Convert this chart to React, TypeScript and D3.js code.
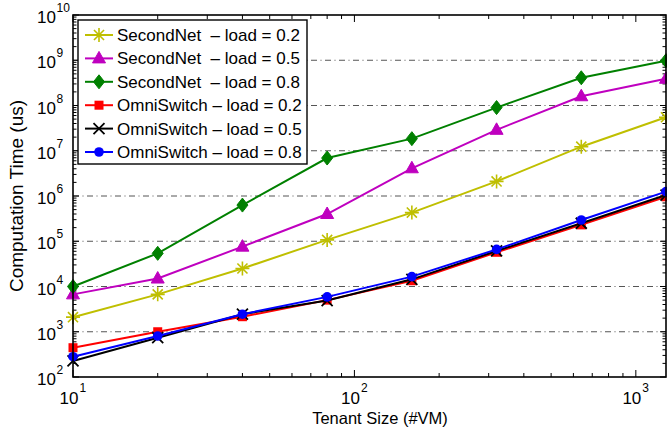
import React, { useEffect, useRef } from 'react';
import * as d3 from 'd3';

// tenant sizes (#VM) and computation time (us)
const tenantSizes = [10, 20, 40, 80, 160, 320, 640, 1280];
const secondNet02 = [2100, 6700, 25000, 107000, 430000, 2.1e6, 1.23e7, 5.5e7];
const secondNet05 = [6700, 15000, 76000, 4.0e5, 4.1e6, 2.9e7, 1.6e8, 3.9e8];
const secondNet08 = [1.0e4, 5.4e4, 6.3e5, 6.9e6, 1.85e7, 9.0e7, 4.1e8, 9.8e8];
const omni02 = [444, 1000, 2150, 5000, 1.34e4, 5.7e4, 2.3e5, 9.6e5];
const omni05 = [226, 740, 2440, 4900, 1.44e4, 6.1e4, 2.5e5, 1.05e6];
const omni08 = [281, 805, 2440, 5900, 1.65e4, 6.6e4, 2.95e5, 1.25e6];

const seriesLabels = [
  'SecondNet  \u2013 load = 0.2',
  'SecondNet  \u2013 load = 0.5',
  'SecondNet  \u2013 load = 0.8',
  'OmniSwitch \u2013 load = 0.2',
  'OmniSwitch \u2013 load = 0.5',
  'OmniSwitch \u2013 load = 0.8',
];
const seriesValues = [secondNet02, secondNet05, secondNet08, omni02, omni05, omni08];
const seriesColors = ['#bfbf00', '#bf00bf', '#008000', '#ff0000', '#000000', '#0000ff'];
const seriesMarkers = ['star', 'triangle', 'diamond', 'square', 'x', 'circle'];

const xTickExps = [1, 2, 3];
const yTickExps = [2, 3, 4, 5, 6, 7, 8, 9, 10];

const drawMarker = (g, type, x, y, color) => {
  if (type === 'star') {
    const r = 7;
    const d = r * 0.72;
    g.append('path')
      .attr('d', `M${x - r},${y}L${x + r},${y}M${x},${y - r}L${x},${y + r}M${x - d},${y - d}L${x + d},${y + d}M${x - d},${y + d}L${x + d},${y - d}`)
      .attr('stroke', color).attr('stroke-width', 1.6).attr('fill', 'none');
  } else if (type === 'triangle') {
    g.append('path')
      .attr('d', `M${x},${y - 7}L${x + 6.5},${y + 4.5}L${x - 6.5},${y + 4.5}Z`)
      .attr('fill', color).attr('stroke', color).attr('stroke-width', 1);
  } else if (type === 'diamond') {
    g.append('path')
      .attr('d', `M${x},${y - 7}L${x + 5.5},${y}L${x},${y + 7}L${x - 5.5},${y}Z`)
      .attr('fill', color).attr('stroke', color).attr('stroke-width', 1);
  } else if (type === 'square') {
    g.append('rect')
      .attr('x', x - 4.5).attr('y', y - 4.5).attr('width', 9).attr('height', 9)
      .attr('fill', color);
  } else if (type === 'x') {
    const r = 5.5;
    g.append('path')
      .attr('d', `M${x - r},${y - r}L${x + r},${y + r}M${x - r},${y + r}L${x + r},${y - r}`)
      .attr('stroke', color).attr('stroke-width', 1.8).attr('fill', 'none');
  } else {
    g.append('circle').attr('cx', x).attr('cy', y).attr('r', 4.8).attr('fill', color);
  }
};

const App = () => {
  const ref = useRef(null);

  useEffect(() => {
    const svg = d3.select(ref.current);
    svg.selectAll('*').remove();

    const width = 667;
    const height = 431;
    const left = 73, right = 666, top = 15, bottom = 377;
    const font = 'Liberation Sans, Arial, Helvetica, sans-serif';

    svg.attr('width', width).attr('height', height).style('font-family', font);

    const x = d3.scaleLog().domain([10, 1280]).range([left, right]);
    const y = d3.scaleLog().domain([1e2, 1e10]).range([bottom, top]);

    svg.append('rect').attr('width', width).attr('height', height).attr('fill', '#fff');

    // horizontal dash-dot grid at each decade
    svg.append('g')
      .selectAll('line')
      .data(yTickExps.slice(1, -1))
      .enter()
      .append('line')
      .attr('x1', left).attr('x2', right)
      .attr('y1', d => y(Math.pow(10, d))).attr('y2', d => y(Math.pow(10, d)))
      .attr('stroke', '#555')
      .attr('stroke-width', 1)
      .attr('stroke-dasharray', '6,3.5,1,3.5');

    // ticks (inward, all four sides)
    const ticks = svg.append('g').attr('stroke', '#000').attr('stroke-width', 1);
    const yMinor = [];
    for (let e = 2; e < 10; e++) for (let m = 2; m <= 9; m++) yMinor.push(m * Math.pow(10, e));
    const xMinor = [];
    for (let e = 1; e < 4; e++) for (let m = 2; m <= 9; m++) if (m * Math.pow(10, e) <= 1280) xMinor.push(m * Math.pow(10, e));

    yTickExps.forEach(e => {
      const ty = y(Math.pow(10, e));
      ticks.append('line').attr('x1', left).attr('x2', left + 6).attr('y1', ty).attr('y2', ty);
      ticks.append('line').attr('x1', right).attr('x2', right - 6).attr('y1', ty).attr('y2', ty);
    });
    yMinor.forEach(v => {
      const ty = y(v);
      ticks.append('line').attr('x1', left).attr('x2', left + 3.5).attr('y1', ty).attr('y2', ty);
      ticks.append('line').attr('x1', right).attr('x2', right - 3.5).attr('y1', ty).attr('y2', ty);
    });
    xTickExps.forEach(e => {
      const tx = x(Math.pow(10, e));
      ticks.append('line').attr('x1', tx).attr('x2', tx).attr('y1', bottom).attr('y2', bottom - 7);
      ticks.append('line').attr('x1', tx).attr('x2', tx).attr('y1', top).attr('y2', top + 7);
    });
    xMinor.forEach(v => {
      const tx = x(v);
      ticks.append('line').attr('x1', tx).attr('x2', tx).attr('y1', bottom).attr('y2', bottom - 4);
      ticks.append('line').attr('x1', tx).attr('x2', tx).attr('y1', top).attr('y2', top + 4);
    });

    // series lines and markers
    const line = d3.line()
      .x((d, i) => x(tenantSizes[i]))
      .y(d => y(d));

    seriesValues.forEach((vals, s) => {
      const g = svg.append('g');
      g.append('path')
        .datum(vals)
        .attr('d', line)
        .attr('fill', 'none')
        .attr('stroke', seriesColors[s])
        .attr('stroke-width', 2);
      vals.forEach((v, i) => drawMarker(g, seriesMarkers[s], x(tenantSizes[i]), y(v), seriesColors[s]));
    });

    // frame
    svg.append('rect')
      .attr('x', left).attr('y', top)
      .attr('width', right - left).attr('height', bottom - top)
      .attr('fill', 'none').attr('stroke', '#000').attr('stroke-width', 1.6);

    // tick labels
    yTickExps.forEach(e => {
      const ty = y(Math.pow(10, e));
      svg.append('text').attr('x', 56).attr('y', ty + 8)
        .attr('text-anchor', 'end').attr('font-size', 17).text('10');
      svg.append('text').attr('x', 56.5).attr('y', ty - 3)
        .attr('font-size', 12).text(String(e));
    });
    xTickExps.forEach(e => {
      const tx = x(Math.pow(10, e));
      svg.append('text').attr('x', tx + 5.5).attr('y', 404)
        .attr('text-anchor', 'end').attr('font-size', 17).text('10');
      svg.append('text').attr('x', tx + 6.5).attr('y', 392)
        .attr('font-size', 12).text(String(e));
    });

    // axis titles
    svg.append('text')
      .attr('x', 380).attr('y', 424)
      .attr('text-anchor', 'middle').attr('font-size', 16.5)
      .text('Tenant Size (#VM)');
    svg.append('text')
      .attr('transform', `translate(23,196) rotate(-90)`)
      .attr('text-anchor', 'middle').attr('font-size', 19)
      .text('Computation Time (us)');

    // legend
    const lg = svg.append('g');
    lg.append('rect')
      .attr('x', 78).attr('y', 20).attr('width', 229).attr('height', 144)
      .attr('fill', '#fff').attr('stroke', '#000').attr('stroke-width', 1.4);
    seriesLabels.forEach((label, s) => {
      const ly = 35 + s * 23.4;
      lg.append('line').attr('x1', 85).attr('x2', 113).attr('y1', ly).attr('y2', ly)
        .attr('stroke', seriesColors[s]).attr('stroke-width', 2);
      drawMarker(lg, seriesMarkers[s], 99, ly, seriesColors[s]);
      lg.append('text').attr('x', 117).attr('y', ly + 6)
        .attr('font-size', 17).style('white-space', 'pre')
        .text(label);
    });
  }, []);

  return <svg ref={ref} style={{ position: 'absolute', left: 0, top: 0 }} />;
};

export default App;
